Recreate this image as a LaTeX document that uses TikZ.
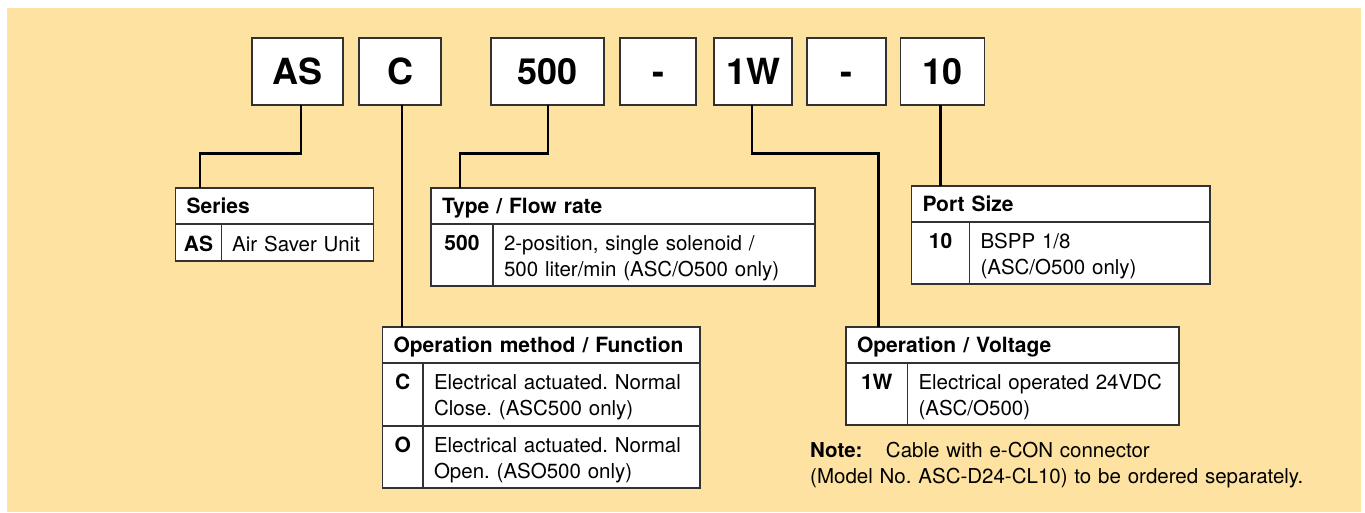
\documentclass[tikz,border=0pt]{standalone}
\usepackage{fontspec}
\setmainfont{TeX Gyre Heros}
\usetikzlibrary{positioning}
\definecolor{panel}{RGB}{254,226,161}
\definecolor{rule}{RGB}{50,50,50}
\frenchspacing
\begin{document}
\begin{tikzpicture}[x=1pt,y=-1pt]
  \tikzstyle{code} = [draw=rule, line width=1.2pt, fill=white, outer sep=0pt, inner sep=0pt, minimum height=67pt, text height=26pt, text depth=0pt, font=\fontsize{36}{40}\selectfont\bfseries]
  \tikzstyle{head} = [draw=rule, line width=1.1pt, fill=white, anchor=north west, outer sep=0pt, inner xsep=11pt, inner ysep=0pt, minimum height=36pt, text height=15pt, text depth=0pt, align=left, font=\fontsize{21}{26}\selectfont\bfseries]
  \tikzstyle{key} = [draw=rule, line width=1.1pt, fill=white, anchor=north west, outer sep=0pt, inner xsep=2pt, inner ysep=0pt, text height=26pt, font=\fontsize{21}{26}\selectfont\bfseries]
  \tikzstyle{desc} = [draw=rule, line width=1.1pt, fill=white, anchor=north west, outer sep=0pt, inner xsep=11pt, inner ysep=0pt, text height=26pt, align=left, font=\fontsize{20.5}{26}\selectfont]
  \tikzstyle{link} = [line width=2.6pt, black]

  \useasboundingbox (0,0) rectangle (1365,512);
  \fill[panel] (7,8) rectangle (1361,512);

  \node[code, minimum width=91pt] (as) at (297.5,71.5) {AS};
  \node[code, minimum width=82pt] (c) at (400,71.5) {C};
  \node[code, minimum width=113pt] (flow) at (547.5,71.5) {500};
  \node[code, minimum width=76pt] (dash1) at (658,71.5) {-};
  \node[code, minimum width=78pt] (volt) at (753,71.5) {1W};
  \node[code, minimum width=79pt] (dash2) at (846.5,71.5) {-};
  \node[code, minimum width=84pt] (port) at (942.5,71.5) {10};

  \node[head, text width=175.5pt] (serhead) at (175.7,188) {Series};
  \node[key, minimum width=45.5pt, text height=27pt, text depth=10pt] (serkey) at (serhead.south west) {AS};
  \node[desc, text width=130pt, text height=27pt, text depth=10pt] (serdesc) at (serkey.north east) {Air Saver Unit};

  \node[head, text width=362pt] (typehead) at (431,188) {Type / Flow rate};
  \node[key, minimum width=62pt, text depth=36pt] (typekey) at (typehead.south west) {500};
  \node[desc, text width=300pt, text depth=36pt] (typedesc) at (typekey.north east) {2-position, single solenoid /\\500 liter/min (ASC/O500 only)};

  \node[head, text width=276.5pt] (porthead) at (911.5,186) {Port Size};
  \node[key, minimum width=58pt, text depth=36pt] (portkey) at (porthead.south west) {10};
  \node[desc, text width=218.5pt, text depth=36pt] (portdesc) at (portkey.north east) {BSPP 1/8\\(ASC/O500 only)};

  \node[head, text width=295.5pt] (opmhead) at (382.5,327) {Operation method / Function};
  \node[key, minimum width=40.5pt, text depth=37pt] (opmkeyc) at (opmhead.south west) {C};
  \node[desc, text width=255pt, text depth=37pt] (opmdescc) at (opmkeyc.north east) {Electrical actuated. Normal\\Close. (ASC500 only)};
  \node[key, minimum width=40.5pt, text depth=36pt] (opmkeyo) at (opmkeyc.south west) {O};
  \node[desc, text width=255pt, text depth=36pt] (opmdesco) at (opmkeyo.north east) {Electrical actuated. Normal\\Open. (ASO500 only)};

  \node[head, text width=311pt] (opvhead) at (846,327) {Operation / Voltage};
  \node[key, minimum width=61.5pt, text depth=36pt] (opvkey) at (opvhead.south west) {1W};
  \node[desc, text width=249.5pt, text depth=36pt] (opvdesc) at (opvkey.north east) {Electrical operated 24VDC\\(ASC/O500)};

  \node[anchor=base west, inner sep=0pt, text width=520pt, align=left, font=\fontsize{20.5}{26}\selectfont] (note) at (810,457) {\textbf{Note:}\hspace{23.5pt}Cable with e-CON connector\\(Model No. ASC-D24-CL10) to be ordered separately.};

  \draw[link] ([xshift=3.5pt]as.south) -- ++(0,48.5) -| ([xshift=24.3pt]serhead.north west);
  \draw[link] ([xshift=2pt]c.south) -- ([xshift=19.5pt]opmhead.north west);
  \draw[link] ([xshift=0.5pt]flow.south) -- ++(0,48.5) -| ([xshift=29pt]typehead.north west);
  \draw[link] ([xshift=-1pt]volt.south) -- ++(0,48.5) -| ([xshift=32.5pt]opvhead.north west);
  \draw[link] ([xshift=-2pt]port.south) -- ([xshift=29pt]porthead.north west);
\end{tikzpicture}
\end{document}
